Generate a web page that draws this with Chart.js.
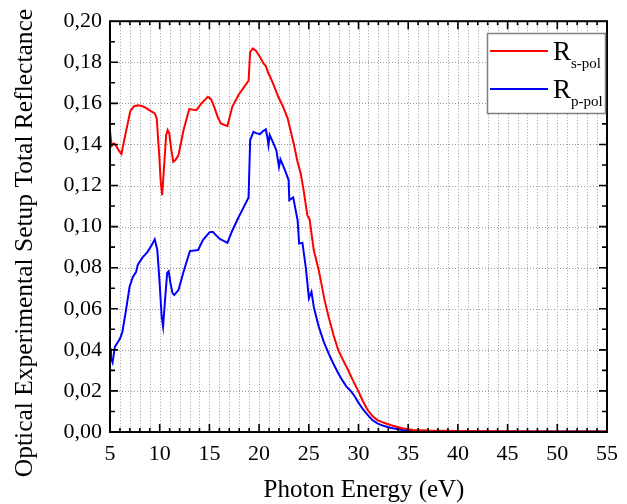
<!DOCTYPE html>
<html>
<head>
<meta charset="utf-8">
<script src="https://cdn.jsdelivr.net/npm/chart.js@4.4.1/dist/chart.umd.min.js"></script>
<style>
  html, body { margin: 0; padding: 0; background: #fff; }
  #wrap { width: 627px; height: 504px; }
</style>
</head>
<body>
<div id="wrap"><canvas id="chart" width="627" height="504"></canvas></div>
<script>
// s-polarised reflectance vs photon energy (eV)
const sPolEnergy = [5.0, 5.17, 5.39, 5.59, 5.9, 6.15, 6.6, 7.04, 7.4, 7.79, 8.2, 8.61, 8.94, 9.5, 9.7, 9.95, 10.1, 10.25,
  10.45, 10.65, 10.8, 10.97, 11.15, 11.37, 11.6, 11.89, 12.4, 12.97, 13.69, 14.2, 14.84, 15.17, 15.5, 15.83, 16.15,
  16.81, 17.3, 17.96, 18.5, 18.94, 19.1, 19.37, 19.7, 20.09, 20.45, 20.68, 20.94, 21.07, 21.5, 21.93, 22.4, 22.87,
  23.5, 23.87, 24.19, 24.5, 24.85, 25.08, 25.5, 26.0, 26.59, 26.99, 27.5, 27.96, 28.45, 28.95, 29.45, 29.93, 30.42,
  30.92, 31.4, 31.9, 32.5, 33.2, 34.4, 35.5, 37, 40, 45, 50, 55];
const sPolValues = [0.1466, 0.1393, 0.1405, 0.1395, 0.1370, 0.1353, 0.1460, 0.1562, 0.1585, 0.1591, 0.1587, 0.1578,
  0.1567, 0.1551, 0.1527, 0.1350, 0.1220, 0.1153, 0.1300, 0.1445, 0.1470, 0.1453, 0.1380, 0.1315, 0.1325, 0.1348,
  0.1470, 0.1572, 0.1567, 0.1600, 0.1632, 0.1620, 0.1580, 0.1534, 0.1502, 0.1489, 0.1583, 0.1643, 0.1680, 0.1710,
  0.1850, 0.1867, 0.1855, 0.1826, 0.1794, 0.1781, 0.1745, 0.1735, 0.1685, 0.1632, 0.1585, 0.1527, 0.1400, 0.1315,
  0.1259, 0.1170, 0.1056, 0.1035, 0.0886, 0.0788, 0.0642, 0.0561, 0.0470, 0.0399, 0.0350, 0.0302, 0.0250, 0.0204,
  0.0152, 0.0107, 0.0078, 0.0058, 0.0046, 0.0034, 0.0018, 0.0010, 0.0007, 0.0005, 0.0004, 0.0003, 0.0003];

// p-polarised reflectance vs photon energy (eV)
const pPolEnergy = [5.0, 5.1, 5.26, 5.49, 5.92, 6.05, 6.25, 6.6, 6.97, 7.3, 7.63, 7.8, 8.28, 8.78, 9.2, 9.5, 9.76, 10.0,
  10.2, 10.34, 10.55, 10.75, 10.9, 11.1, 11.3, 11.46, 11.89, 12.4, 13.04, 13.86, 14.35, 15.0, 15.33, 15.99, 16.81,
  17.3, 17.8, 18.4, 18.94, 19.1, 19.43, 19.7, 20.09, 20.4, 20.68, 20.85, 20.94, 21.07, 21.4, 21.73, 22.0, 22.15,
  22.6, 22.97, 23.04, 23.43, 23.87, 24.03, 24.36, 24.7, 25.01, 25.27, 25.5, 25.83, 26.0, 26.5, 26.99, 27.5, 27.96,
  28.4, 28.79, 29.28, 29.6, 29.93, 30.42, 30.92, 31.4, 31.9, 32.5, 33.2, 34.4, 35.5, 38, 45, 55];
const pPolValues = [0.0407, 0.0360, 0.0339, 0.0415, 0.0448, 0.0460, 0.0488, 0.0590, 0.0707, 0.0755, 0.0780, 0.0815,
  0.0850, 0.0877, 0.0910, 0.0938, 0.0886, 0.0720, 0.0560, 0.0513, 0.0650, 0.0775, 0.0783, 0.0720, 0.0675, 0.0667,
  0.0691, 0.0780, 0.0881, 0.0886, 0.0934, 0.0972, 0.0975, 0.0942, 0.0921, 0.0980, 0.1032, 0.1090, 0.1142, 0.1421,
  0.1461, 0.1455, 0.1450, 0.1465, 0.1473, 0.1430, 0.1397, 0.1445, 0.1410, 0.1372, 0.1291, 0.1327, 0.1275, 0.1226,
  0.1129, 0.1142, 0.1032, 0.0918, 0.0921, 0.0800, 0.0651, 0.0683, 0.0610, 0.0545, 0.0513, 0.0440, 0.0383, 0.0330,
  0.0286, 0.0250, 0.0221, 0.0196, 0.0175, 0.0148, 0.0112, 0.0083, 0.0058, 0.0042, 0.0030, 0.0021, 0.0010, 0.0005,
  0.0003, 0.0002, 0.0002];

const xMin = 5, xMax = 55, xMajor = 5, xMinor = 1;
const yMin = 0, yMax = 0.20, yMajor = 0.02, yMinor = 0.01;

const legendItems = [
  { base: "R", sub: "s-pol", color: "#ff0000" },
  { base: "R", sub: "p-pol", color: "#0000ff" }
];

const SERIF = "'Liberation Serif', 'Times New Roman', serif";

function pairs(xs, ys) {
  return xs.map((x, i) => ({ x: x, y: ys[i] }));
}

// grid, frame, inward ticks, axis titles and the subscripted legend
const framePlugin = {
  id: "originFrame",
  beforeDatasetsDraw(chart) {
    const { ctx, chartArea: a, scales: { x, y } } = chart;
    ctx.save();
    ctx.strokeStyle = "#9a9a9a";
    ctx.lineWidth = 1;
    ctx.setLineDash([1, 2]);
    for (let v = xMin + xMinor; v < xMax; v += xMinor) {
      const px = Math.round(x.getPixelForValue(v)) + 0.5;
      ctx.beginPath(); ctx.moveTo(px, a.top); ctx.lineTo(px, a.bottom); ctx.stroke();
    }
    for (let i = 1; i < Math.round((yMax - yMin) / yMajor); i++) {
      const py = Math.round(y.getPixelForValue(yMin + i * yMajor)) + 0.5;
      ctx.beginPath(); ctx.moveTo(a.left, py); ctx.lineTo(a.right, py); ctx.stroke();
    }
    ctx.restore();
  },
  afterDatasetsDraw(chart) {
    const { ctx, chartArea: a, scales: { x, y } } = chart;
    ctx.save();
    ctx.strokeStyle = "#000";
    ctx.lineWidth = 2;
    ctx.setLineDash([]);
    ctx.strokeRect(a.left, a.top, a.right - a.left, a.bottom - a.top);

    ctx.lineWidth = 1.6;
    const nx = Math.round((xMax - xMin) / xMinor);
    for (let i = 1; i < nx; i++) {
      const v = xMin + i * xMinor;
      const len = (v % xMajor === 0) ? 8 : 4;
      const px = x.getPixelForValue(v);
      ctx.beginPath();
      ctx.moveTo(px, a.bottom); ctx.lineTo(px, a.bottom - len);
      ctx.moveTo(px, a.top); ctx.lineTo(px, a.top + len);
      ctx.stroke();
    }
    const ny = Math.round((yMax - yMin) / yMinor);
    for (let i = 1; i < ny; i++) {
      const len = (i % 2 === 0) ? 8 : 5;
      const py = y.getPixelForValue(yMin + i * yMinor);
      ctx.beginPath();
      ctx.moveTo(a.left, py); ctx.lineTo(a.left + len, py);
      ctx.moveTo(a.right, py); ctx.lineTo(a.right - len, py);
      ctx.stroke();
    }
    ctx.restore();
  },
  afterDraw(chart) {
    const { ctx } = chart;
    ctx.save();
    ctx.fillStyle = "#000";
    ctx.textAlign = "center";
    ctx.textBaseline = "middle";

    ctx.font = "25px " + SERIF;
    ctx.fillText("Photon Energy (eV)", 364, 490);

    ctx.translate(25, 243);
    ctx.rotate(-Math.PI / 2);
    ctx.font = "25.5px " + SERIF;
    ctx.fillText("Optical Experimental Setup Total Reflectance", 0, 0);
    ctx.restore();

    // legend box
    ctx.save();
    ctx.fillStyle = "#fff";
    ctx.fillRect(487, 33, 119, 81);
    ctx.strokeStyle = "#7f7f7f";
    ctx.lineWidth = 1.5;
    ctx.strokeRect(487.5, 33.5, 118, 80);
    legendItems.forEach((item, i) => {
      const ly = 51 + i * 38;
      ctx.strokeStyle = item.color;
      ctx.lineWidth = 2;
      ctx.beginPath(); ctx.moveTo(490, ly); ctx.lineTo(548, ly); ctx.stroke();
      ctx.fillStyle = "#000";
      ctx.textAlign = "left";
      ctx.textBaseline = "alphabetic";
      ctx.font = "27px " + SERIF;
      ctx.fillText(item.base, 553, ly + 9);
      ctx.font = "15px " + SERIF;
      ctx.fillText(item.sub, 571, ly + 17);
    });
    ctx.restore();
  }
};

new Chart(document.getElementById("chart"), {
  type: "line",
  data: {
    datasets: [
      {
        label: "R s-pol",
        data: pairs(sPolEnergy, sPolValues),
        borderColor: "#ff0000",
        borderWidth: 2,
        pointRadius: 0,
        tension: 0
      },
      {
        label: "R p-pol",
        data: pairs(pPolEnergy, pPolValues),
        borderColor: "#0000ff",
        borderWidth: 2,
        pointRadius: 0,
        tension: 0
      }
    ]
  },
  options: {
    responsive: false,
    animation: false,
    layout: { padding: { left: 0, top: 21, right: 9, bottom: 0 } },
    plugins: { legend: { display: false }, tooltip: { enabled: false } },
    scales: {
      x: {
        type: "linear",
        min: xMin,
        max: xMax,
        grid: { display: false, drawTicks: false },
        border: { display: false },
        ticks: {
          stepSize: xMajor,
          padding: 9,
          color: "#000",
          font: { family: SERIF, size: 22 },
          maxRotation: 0,
          callback: (v) => v
        },
        afterFit: (s) => { s.height = 72; }
      },
      y: {
        min: yMin,
        max: yMax,
        grid: { display: false, drawTicks: false },
        border: { display: false },
        ticks: {
          stepSize: yMajor,
          padding: 8,
          color: "#000",
          font: { family: SERIF, size: 22 },
          callback: (v) => v.toFixed(2).replace(".", ",")
        },
        afterFit: (s) => { s.width = 110; }
      }
    }
  },
  plugins: [framePlugin]
});
</script>
</body>
</html>
